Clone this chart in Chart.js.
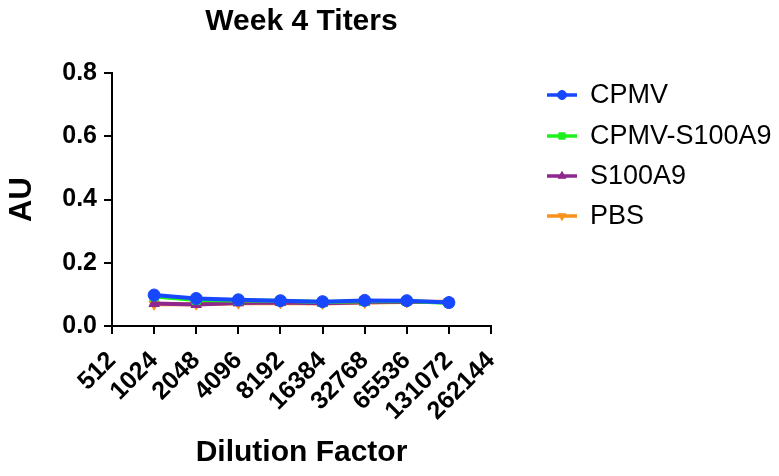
<!DOCTYPE html>
<html>
<head>
<meta charset="utf-8">
<script src="https://cdn.jsdelivr.net/npm/chart.js@4.4.0/dist/chart.umd.min.js"></script>
<style>
  html, body { margin: 0; padding: 0; background: #ffffff; }
  #wrap { width: 779px; height: 476px; }
</style>
</head>
<body>
<div id="wrap"><canvas id="titerChart" width="779" height="476"></canvas></div>
<script>
// Facteurs de dilution (axe x, échelle log2)
const dilutions = ['512', '1024', '2048', '4096', '8192', '16384', '32768', '65536', '131072', '262144'];

const cpmv = [null, 0.098, 0.087, 0.083, 0.080, 0.077, 0.081, 0.080, 0.074, null];
const cpmvS100a9 = [null, 0.093, 0.082, 0.081, 0.080, 0.076, 0.078, 0.079, 0.073, null];
const s100a9 = [null, 0.071, 0.068, 0.073, 0.074, 0.072, 0.075, 0.077, 0.076, null];
const pbs = [null, 0.069, 0.069, 0.072, 0.073, 0.071, 0.074, 0.076, 0.077, null];

const seriesNames = ['CPMV', 'CPMV-S100A9', 'S100A9', 'PBS'];
const seriesColors = ['#1747ff', '#1ef01e', '#8e278e', '#f7921c'];
const seriesPoints = ['circle', 'rect', 'triangle', 'triangle'];
const seriesRotation = [0, 0, 0, 180];

const fontFamily = '"Liberation Sans", Arial, Helvetica, sans-serif';

const makeDataset = (i, values) => ({
    label: seriesNames[i],
    data: values,
    borderColor: seriesColors[i],
    backgroundColor: seriesColors[i],
    borderWidth: 4,
    pointStyle: seriesPoints[i],
    pointRotation: seriesRotation[i],
    pointRadius: 6,
    pointBorderWidth: 1,
    tension: 0,
    spanGaps: false,
});

// Légende dessinée à la main : trait + symbole comme dans la figure
const lineLegend = {
    id: 'lineLegend',
    afterDraw(chart) {
        const ctx = chart.ctx;
        const rows = [95, 136, 176, 216];
        ctx.save();
        chart.data.datasets.forEach((ds, i) => {
            const y = rows[i];
            ctx.strokeStyle = ds.borderColor;
            ctx.fillStyle = ds.backgroundColor;
            ctx.lineWidth = 3.5;
            ctx.beginPath();
            ctx.moveTo(547, y);
            ctx.lineTo(577, y);
            ctx.stroke();
            ctx.lineWidth = 1;
            Chart.helpers.drawPoint(ctx, {
                pointStyle: ds.pointStyle,
                rotation: ds.pointRotation,
                radius: 4.5,
                borderWidth: 1,
            }, 562, y);
            ctx.fillStyle = '#000000';
            ctx.font = '27px ' + fontFamily;
            ctx.textBaseline = 'middle';
            ctx.textAlign = 'left';
            ctx.fillText(ds.label, 590, y + 1);
        });
        ctx.restore();
    },
};

const ctx = document.getElementById('titerChart').getContext('2d');
const titerChart = new Chart(ctx, {
    type: 'line',
    data: {
        labels: dilutions,
        datasets: [
            makeDataset(0, cpmv),
            makeDataset(1, cpmvS100a9),
            makeDataset(2, s100a9),
            makeDataset(3, pbs),
        ],
    },
    options: {
        responsive: false,
        animation: false,
        layout: {
            padding: { left: 0, right: 288, top: 0, bottom: 0 },
        },
        scales: {
            x: {
                type: 'category',
                offset: false,
                afterFit: (scale) => { scale.height = 150; },
                grid: {
                    drawOnChartArea: false,
                    drawTicks: true,
                    tickLength: 8,
                    color: '#000000',
                    lineWidth: 2,
                },
                border: { color: '#000000', width: 2 },
                ticks: {
                    color: '#000000',
                    minRotation: 45,
                    maxRotation: 45,
                    autoSkip: false,
                    padding: 12,
                    font: { family: fontFamily, size: 25, weight: 'bold' },
                },
                title: {
                    display: true,
                    text: 'Dilution Factor',
                    color: '#000000',
                    padding: { top: 0, bottom: 5 },
                    font: { family: fontFamily, size: 30, weight: 'bold' },
                },
            },
            y: {
                min: 0,
                max: 0.8,
                afterFit: (scale) => { scale.width = 112; },
                grid: {
                    drawOnChartArea: false,
                    drawTicks: true,
                    tickLength: 8,
                    color: '#000000',
                    lineWidth: 2,
                },
                border: { color: '#000000', width: 2 },
                ticks: {
                    stepSize: 0.2,
                    color: '#000000',
                    padding: 7,
                    font: { family: fontFamily, size: 25, weight: 'bold' },
                    callback: (value) => value.toFixed(1),
                },
                title: {
                    display: true,
                    text: 'AU',
                    color: '#000000',
                    padding: { top: 4, bottom: 0 },
                    font: { family: fontFamily, size: 31, weight: 'bold' },
                },
            },
        },
        plugins: {
            legend: { display: false },
            tooltip: { enabled: false },
            title: {
                display: true,
                fullSize: false,
                text: 'Week 4 Titers',
                color: '#000000',
                padding: { top: 4, bottom: 33 },
                font: { family: fontFamily, size: 30, weight: 'bold' },
            },
        },
    },
    plugins: [lineLegend],
});
</script>
</body>
</html>
